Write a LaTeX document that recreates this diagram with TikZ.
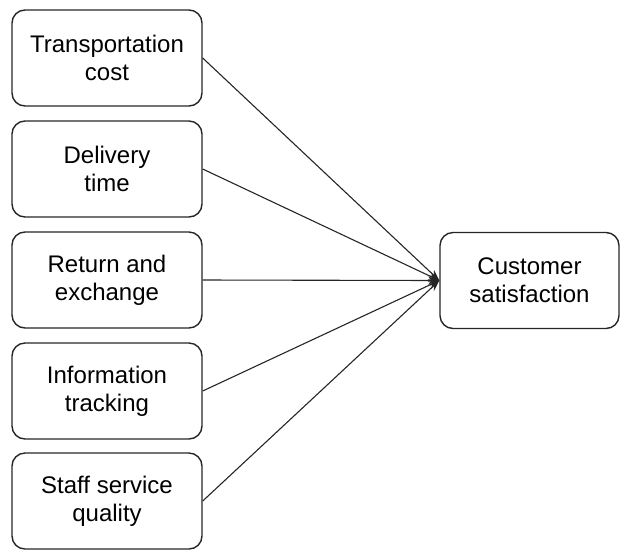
\documentclass[tikz,border=0pt]{standalone}
\usepackage{fontspec}
\setmainfont{Liberation Sans}
\usetikzlibrary{arrows.meta}
\begin{document}
\begin{tikzpicture}[x=1pt,y=-1pt,
  factor/.style={draw=black!85, line width=1.4pt, rounded corners=13pt,
    minimum width=190pt, minimum height=96pt, align=center,
    font=\fontsize{24}{28}\selectfont, inner sep=0pt},
  link/.style={draw=black!85, line width=1.1pt, -{Stealth[length=11pt,width=8pt]}}]
  \useasboundingbox (0,0) rectangle (620,550);
  \node[factor] (tc) at (107,58) {Transportation\\cost};
  \node[factor] (dt) at (107,169) {Delivery\\time};
  \node[factor] (re) at (107,280) {Return and\\exchange};
  \node[factor] (it) at (107,391) {Information\\tracking};
  \node[factor] (ss) at (107,501) {Staff service\\quality};
  \node[factor, minimum width=179pt] (cs) at (529.5,280.5) {Customer\\satisfaction};
  \foreach \n in {tc,dt,re,it,ss}
    \draw[link] (\n.east) -- (cs.west);
\end{tikzpicture}
\end{document}
